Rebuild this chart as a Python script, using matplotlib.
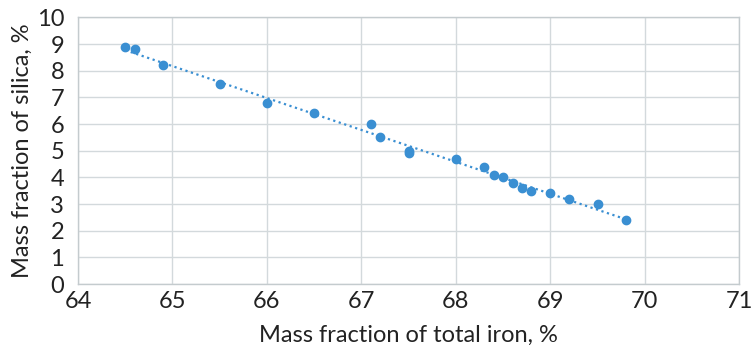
import numpy as np
import matplotlib
matplotlib.use("Agg")
import matplotlib.pyplot as plt

# data
iron = [64.5, 64.6, 64.9, 65.5, 66.0, 66.5, 67.1, 67.2, 67.5, 67.5,
        68.0, 68.3, 68.4, 68.5, 68.6, 68.7, 68.8, 69.0, 69.2, 69.5, 69.8]
silica = [8.9, 8.8, 8.2, 7.5, 6.8, 6.4, 6.0, 5.5, 4.9, 5.0,
          4.7, 4.4, 4.1, 4.0, 3.8, 3.6, 3.5, 3.4, 3.2, 3.0, 2.4]

x_ticks = [64, 65, 66, 67, 68, 69, 70, 71]
y_ticks = list(range(0, 11))

plt.rcParams['font.family'] = ['Lato', 'DejaVu Sans']

fig = plt.figure(figsize=(7.54, 3.45), dpi=100)
ax = fig.add_axes([0.1034, 0.1768, 0.877, 0.7725])

point_color = '#3a8fd2'
grid_color = '#d3d9dc'

# trend line (linear fit)
coef = np.polyfit(iron, silica, 1)
xs = np.array([min(iron), max(iron)])
ax.plot(xs, np.polyval(coef, xs), linestyle=(0, (1, 1.6)), color=point_color,
        linewidth=1.6, zorder=2)

ax.plot(iron, silica, 'o', color=point_color, markersize=6, zorder=3)

ax.set_xlim(64, 71)
ax.set_ylim(0, 10)
ax.set_xticks(x_ticks)
ax.set_yticks(y_ticks)
ax.tick_params(length=0, labelsize=17, colors='#222222')
ax.tick_params(axis='x', pad=5)
ax.tick_params(axis='y', pad=10)
ax.grid(True, color=grid_color, linewidth=1.0)
ax.set_axisbelow(True)
for s in ax.spines.values():
    s.set_color('#c4cbce')
    s.set_linewidth(1.0)

ax.set_xlabel('Mass fraction of total iron, %', fontsize=17, color='#222222', labelpad=9)
ax.set_ylabel('Mass fraction of silica, %', fontsize=17, color='#222222', labelpad=3)

fig.savefig('out.png', dpi=100)
